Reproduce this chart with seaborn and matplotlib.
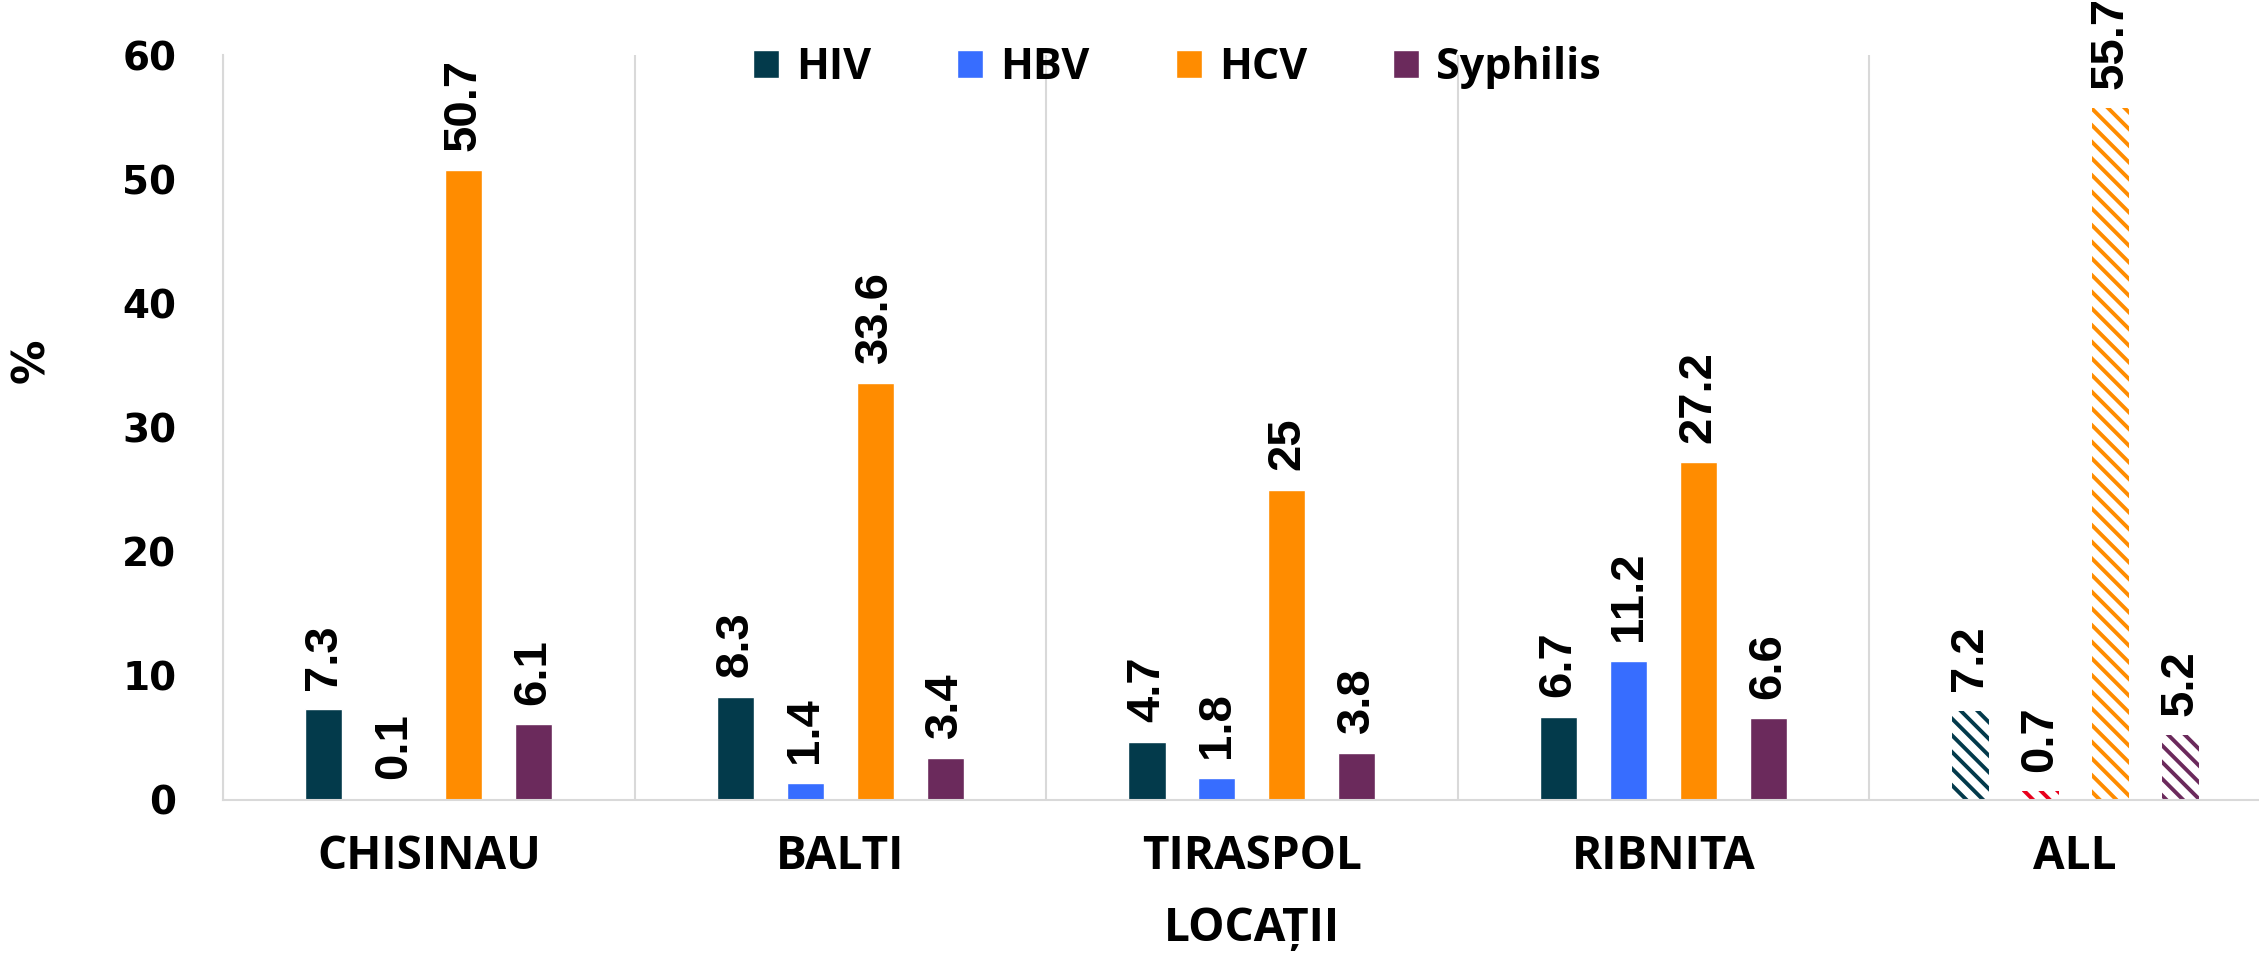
""" Prevalence of infections by location """

import numpy as np
import pandas as pd
import matplotlib
matplotlib.use('Agg')
import matplotlib.pyplot as plt
from matplotlib.patches import Patch
import seaborn as sns

# Data
locations = ['CHISINAU', 'BALTI', 'TIRASPOL', 'RIBNITA', 'ALL']
infections = ['HIV', 'HBV', 'HCV', 'Syphilis']
hiv = [7.3, 8.3, 4.7, 6.7, 7.2]
hbv = [0.1, 1.4, 1.8, 11.2, 0.7]
hcv = [50.7, 33.6, 25, 27.2, 55.7]
syphilis = [6.1, 3.4, 3.8, 6.6, 5.2]
y_ticks = [0, 10, 20, 30, 40, 50, 60]

colors = ['#033A4B', '#376DFF', '#FF8C00', '#6B2A5C']
all_hbv_color = '#E8001C'
grid_color = '#D9D9D9'

df = pd.DataFrame({
    'Location': locations * len(infections),
    'Infection': np.repeat(infections, len(locations)),
    'Value': hiv + hbv + hcv + syphilis,
})

sns.set_style('white')
plt.rcParams['font.family'] = ['DejaVu Sans']
plt.rcParams['text.color'] = 'black'
plt.rcParams['axes.labelcolor'] = 'black'
plt.rcParams['xtick.labelcolor'] = 'black'
plt.rcParams['ytick.labelcolor'] = 'black'
plt.rcParams['hatch.linewidth'] = 2.8

fig = plt.figure(figsize=(22.59, 9.65), dpi=100)
ax = fig.add_axes([0.0987, 0.171, 0.9110, 0.772])

sns.barplot(data=df, x='Location', y='Value', hue='Infection', palette=colors,
            width=0.68, gap=0.47, saturation=1, errorbar=None, legend=False, ax=ax)

# hatched bars for the ALL group
for i, cont in enumerate(ax.containers):
    bar = cont.patches[-1]
    c = all_hbv_color if i == 1 else colors[i]
    bar.set_facecolor('white')
    bar.set_edgecolor(c)
    bar.set_hatch('\\\\')
    bar.set_linewidth(0)

# value labels
for cont in ax.containers:
    ax.bar_label(cont, labels=[f'{v:g}' for v in cont.datavalues], rotation=90,
                 padding=14, fontsize=34, fontweight='bold', family='Liberation Sans',
                 color='black')

ax.set_xlim(-0.5, 4.5)
ax.set_ylim(0, 60)
ax.set_yticks(y_ticks)
ax.set_xticks(np.arange(-0.5, 5), minor=True)

for side in ['top', 'right']:
    ax.spines[side].set_visible(False)
for side in ['left', 'bottom']:
    ax.spines[side].set_color(grid_color)
    ax.spines[side].set_linewidth(1.5)

ax.grid(which='major', visible=False)
ax.grid(which='minor', axis='x', color=grid_color, lw=1.5)

ax.tick_params(axis='x', which='major', length=0, pad=24, labelsize=33)
ax.tick_params(axis='x', which='minor', length=11, color=grid_color, width=1.5)
ax.tick_params(axis='y', length=11.5, color=grid_color, width=1.5, pad=22, labelsize=28)

for lbl in ax.get_xticklabels():
    lbl.set_fontfamily('Open Sans')
    lbl.set_fontweight('bold')
for lbl in ax.get_yticklabels():
    lbl.set_fontweight('bold')

ax.set_xlabel('LOCAȚII', fontsize=33, fontweight='bold', family='Open Sans')
ax.xaxis.set_label_coords(0.5, -0.172)
ax.xaxis.label.set_va('center')
ax.set_ylabel('%', fontsize=32, fontweight='bold')
ax.yaxis.set_label_coords(-0.093, 0.59)
ax.yaxis.label.set_va('center')

handles = [Patch(facecolor=c) for c in colors]
fig.legend(handles, infections, loc='center', bbox_to_anchor=(0.521, 0.93), ncol=4,
           frameon=False, prop=dict(family='Open Sans', weight='bold', size=31),
           handlelength=0.6, handleheight=0.6, handletextpad=0.4, columnspacing=2.0)

fig.savefig('out.png', dpi=100)
